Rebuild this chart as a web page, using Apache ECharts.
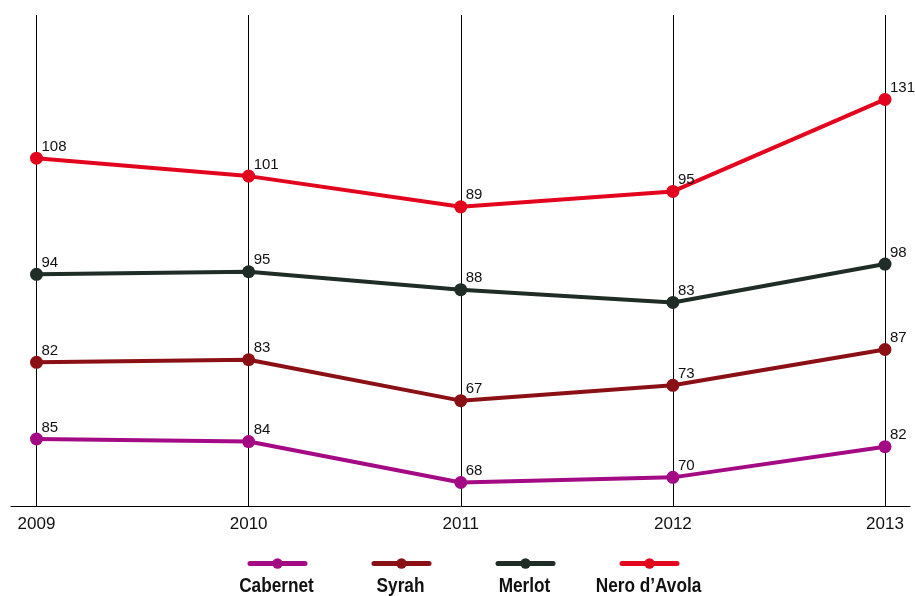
<!DOCTYPE html>
<html>
<head>
<meta charset="utf-8">
<title>Wine index 2009–2013</title>
<script src="https://cdn.jsdelivr.net/npm/echarts@6/dist/echarts.min.js"></script>
<style>
  html, body { margin: 0; padding: 0; background: #ffffff; }
  #chart { width: 915px; height: 596px; }
</style>
</head>
<body>
<div id="chart"></div>
<script>
// Years on the horizontal axis
const years = ['2009', '2010', '2011', '2012', '2013'];

// Values per grape variety
const cabernet = [85, 84, 68, 70, 82];
const syrah = [82, 83, 67, 73, 87];
const merlot = [94, 95, 88, 83, 98];
const neroDAvola = [108, 101, 89, 95, 131];

const seriesNames = ['Cabernet', 'Syrah', 'Merlot', 'Nero d\u2019Avola'];
const seriesValues = [cabernet, syrah, merlot, neroDAvola];
const seriesColors = ['#a30a84', '#8a1015', '#1f2d26', '#e3051d'];

// Each line sits on its own hidden value axis so the bands are stacked vertically
const axisRanges = [
  { min: 58.8, max: 250.8 },
  { min: 25.8, max: 217.8 },
  { min: 3.4, max: 195.4 },
  { min: -28, max: 164 }
];

const labelFont = 'Liberation Sans, Arial, Helvetica, sans-serif';

// Legend layout: keys are laid out left to right, names are centred under each key
const legendLeft = 247.5;
const legendItemWidth = 55;
const legendGap = 64;
const legendStep = legendItemWidth + 5 + legendGap;

const chart = echarts.init(document.getElementById('chart'), null, { renderer: 'canvas' });

const yAxes = axisRanges.map(r => ({
  type: 'value', gridIndex: 0, show: false, min: r.min, max: r.max
}));
yAxes.push({ type: 'value', gridIndex: 1, show: false });

const series = seriesNames.map((name, i) => ({
  name,
  type: 'line',
  xAxisIndex: 0,
  yAxisIndex: i,
  data: seriesValues[i],
  symbol: 'circle',
  symbolSize: 13,
  color: seriesColors[i],
  lineStyle: { width: 4, color: seriesColors[i], cap: 'round', join: 'round' },
  itemStyle: { color: seriesColors[i] },
  emphasis: { disabled: true },
  animation: false,
  label: {
    show: true,
    position: 'right',
    distance: 0,
    offset: [-1.5, -11.5],
    color: '#111',
    fontFamily: labelFont,
    fontSize: 15
  },
  z: 3 + i
}));

// Condensed bold names under the legend keys
const legendNames = seriesNames.map((name, i) => ({
  type: 'text',
  x: legendLeft + i * legendStep + (legendItemWidth + 5) / 2 - 1,
  y: 586,
  scaleX: 0.82,
  silent: true,
  style: {
    text: name,
    textAlign: 'center',
    textVerticalAlign: 'middle',
    fill: '#111',
    font: 'bold 21px "Liberation Sans", Arial, sans-serif'
  }
}));

chart.setOption({
  backgroundColor: '#ffffff',
  animation: false,
  grid: [
    { left: 36.5, right: 30, top: 15, bottom: 90, containLabel: false },
    { left: 11, right: 5, top: 15, bottom: 90, containLabel: false }
  ],
  xAxis: [
    {
      type: 'category',
      gridIndex: 0,
      data: years,
      boundaryGap: false,
      axisLine: { show: false },
      axisTick: { show: false },
      axisLabel: {
        color: '#111',
        fontFamily: labelFont,
        fontSize: 17,
        margin: 10
      },
      splitLine: { show: true, lineStyle: { color: '#000', width: 1 } }
    },
    {
      type: 'value',
      gridIndex: 1,
      axisLine: { show: true, onZero: false, lineStyle: { color: '#000', width: 1 } },
      axisTick: { show: false },
      axisLabel: { show: false },
      splitLine: { show: false }
    }
  ],
  yAxis: yAxes,
  legend: {
    data: seriesNames,
    left: legendLeft,
    top: 557,
    padding: 0,
    itemWidth: legendItemWidth,
    itemHeight: 13,
    itemGap: legendGap,
    selectedMode: false,
    formatter: () => '',
    lineStyle: { width: 5, cap: 'round' }
  },
  graphic: legendNames,
  series
});
</script>
</body>
</html>
